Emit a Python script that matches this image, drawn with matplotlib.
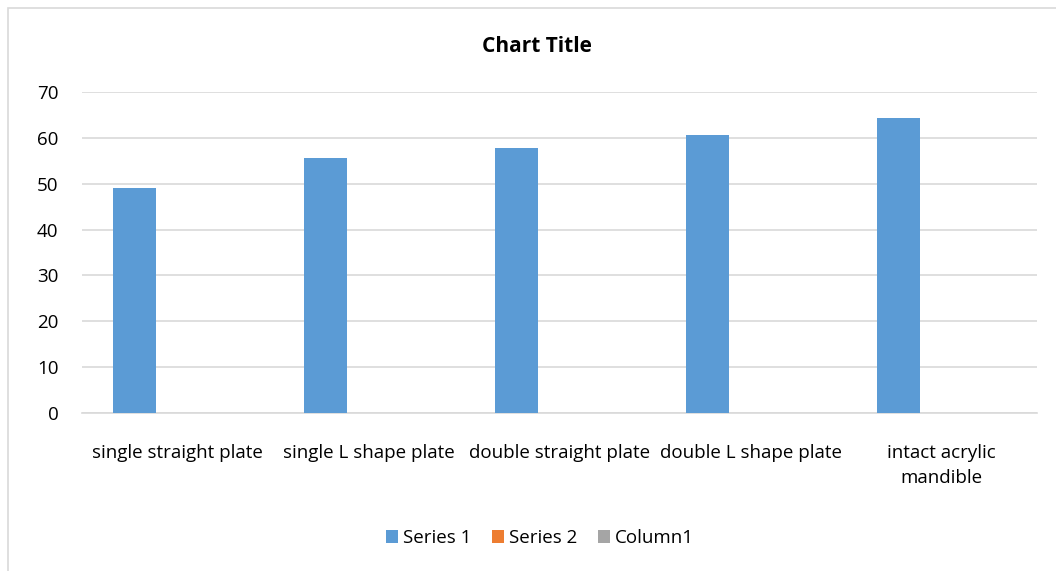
import numpy as np
import matplotlib.pyplot as plt
from matplotlib.patches import Rectangle

categories = ["single straight plate", "single L shape plate", "double straight plate",
              "double L shape plate", "intact acrylic\nmandible"]
series1 = [49.0, 55.5, 57.7, 60.7, 64.4]
series2 = [0, 0, 0, 0, 0]
column1 = [0, 0, 0, 0, 0]
series_names = ["Series 1", "Series 2", "Column1"]
colors = ["#5B9BD5", "#ED7D31", "#A5A5A5"]

plt.rcParams['font.family'] = ['Open Sans', 'DejaVu Sans']

fig = plt.figure(figsize=(10.56, 5.71), dpi=100)
W, H = 1056, 571

# chart frame (Excel style)
fig.patches.append(Rectangle((8 / W, -0.05), 1.2, 1 - 8 / H + 0.05, transform=fig.transFigure,
                             fill=False, edgecolor="#D9D9D9", linewidth=1.2))

ax = fig.add_axes([82 / W, 1 - 413 / H, (1037 - 82) / W, (413 - 92) / H])

x = np.arange(len(categories))
w = 0.2238
for i, (vals, name) in enumerate(zip([series1, series2, column1], series_names)):
    ax.bar(x + (i - 1) * w, vals, width=w, color=colors[i], label=name, zorder=3)

ax.set_xlim(-0.5, len(categories) - 0.5)
ax.set_ylim(0, 70)
ax.set_yticks(range(0, 71, 10))
ax.yaxis.grid(True, color="#D9D9D9", linewidth=1.2, zorder=0)
for s in ["top", "right", "left"]:
    ax.spines[s].set_visible(False)
ax.spines["bottom"].set_color("#D9D9D9")
ax.spines["bottom"].set_linewidth(1.2)
ax.tick_params(axis="both", length=0, labelsize=13.5, colors="#000000")
ax.tick_params(axis="y", pad=17)
ax.tick_params(axis="x", pad=22)
ax.set_xticks(x)
ax.set_xticklabels(categories, linespacing=1.5, va="top")

fig.text(537 / W, 1 - 46 / H, "Chart Title", ha="center", va="center",
         fontsize=15, fontweight="bold")

handles, labels = ax.get_legend_handles_labels()
fig.legend(handles, labels, loc="center", bbox_to_anchor=(540 / W, 1 - 538 / H), ncol=3,
           frameon=False, fontsize=13.5, handlelength=0.65, handleheight=0.65,
           handletextpad=0.25, columnspacing=1.1)

fig.savefig("out.png", dpi=100)
